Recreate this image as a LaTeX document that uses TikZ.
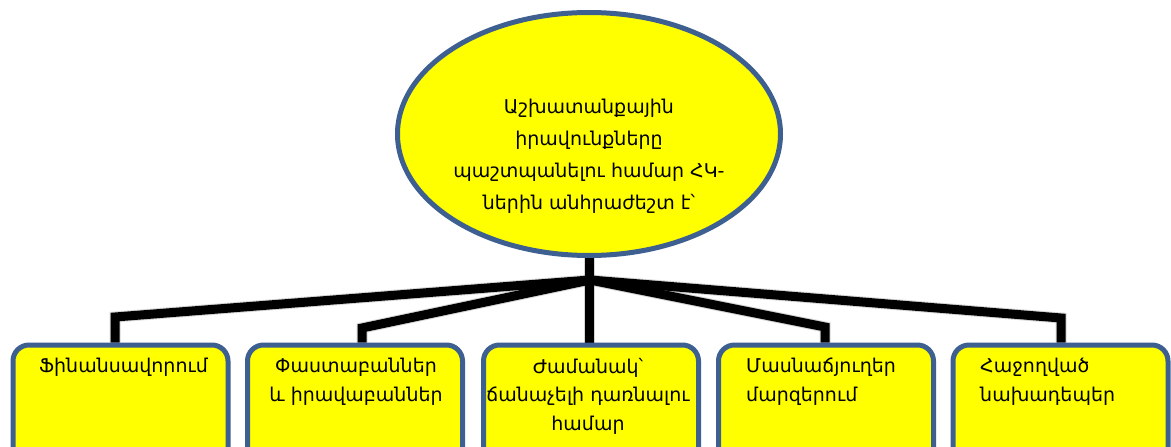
\documentclass[tikz,border=0pt]{standalone}
\usepackage{fontspec}
\setmainfont{DejaVu Sans}
\usetikzlibrary{shapes.geometric}
\definecolor{bd}{RGB}{62,96,145}
\definecolor{yl}{RGB}{255,255,0}
\begin{document}
\begin{tikzpicture}[x=1pt,y=-1pt,
  box/.style={draw=bd,line width=5pt,fill=yl,rounded corners=16pt,minimum width=215pt,minimum height=120pt,inner sep=0pt,anchor=north},
  lbl/.style={font=\fontsize{19}{28.5}\selectfont,align=center,anchor=north,inner sep=0pt},
  lbll/.style={font=\fontsize{19}{28.5}\selectfont,align=left,anchor=north west,inner sep=0pt},
  conn/.style={line width=9pt,black,line join=miter},
  shad/.style={line width=11pt,black!45,opacity=0.35,line join=miter}]
\clip (0,0) rectangle (1171,447);
\fill[white] (0,0) rectangle (1171,447);
% coordinates
\coordinate (J) at (590,280);
\coordinate (k1) at (115,317);
\coordinate (k2) at (362,328);
\coordinate (k4) at (825,327);
\coordinate (k5) at (1061,318);
\coordinate (top) at (589,250);
% box anchor points
\path (120.5,342.5) coordinate (b1n) (355,342.5) coordinate (b2n) (591,342.5) coordinate (b3n)
      (826,342.5) coordinate (b4n) (1060.5,342.5) coordinate (b5n);
% shadows
\begin{scope}[shift={(2,4)}]
\draw[shad] (J) -- (k1) -- (k1 |- b1n);
\draw[shad] (J) -- (k2) -- (k2 |- b2n);
\draw[shad] (J) -- (k4) -- (k4 |- b4n);
\draw[shad] (J) -- (k5) -- (k5 |- b5n);
\draw[shad] (top) -- (top |- b3n);
\end{scope}
% connectors
\draw[conn] (J) -- (k1) -- (k1 |- b1n);
\draw[conn] (J) -- (k2) -- (k2 |- b2n);
\draw[conn] (J) -- (k4) -- (k4 |- b4n);
\draw[conn] (J) -- (k5) -- (k5 |- b5n);
\draw[conn] (top) -- (top |- b3n);
% ellipse
\node[ellipse,draw=bd,line width=5pt,fill=yl,minimum width=383pt,minimum height=243pt,inner sep=0pt] (e) at (589,134) {};
\node[font=\fontsize{19}{32}\selectfont,align=center,inner sep=0pt] (et) at (589,156)
  {Աշխատանքային\\իրավունքները\\պաշտպանելու համար ՀԿ-\\ներին անհրաժեշտ է՝};
% boxes
\node[box] (b1) at (b1n) {};
\node[box] (b2) at (b2n) {};
\node[box] (b3) at (b3n) {};
\node[box] (b4) at (b4n) {};
\node[box] (b5) at (b5n) {};
% labels
\node[lbl] (t1) at (123.5,358) {Ֆինանսավորում};
\node[lbl] (t2) at (356,358) {Փաստաբաններ\\և իրավաբաններ};
\node[lbl] (t3) at (588,358) {Ժամանակ՝\\ճանաչելի դառնալու\\համար};
\node[lbll] (t4) at (746,358) {Մասնաճյուղեր\\մարզերում};
\node[lbll] (t5) at (980,358) {Հաջողված\\նախադեպեր};
\end{tikzpicture}
\end{document}
